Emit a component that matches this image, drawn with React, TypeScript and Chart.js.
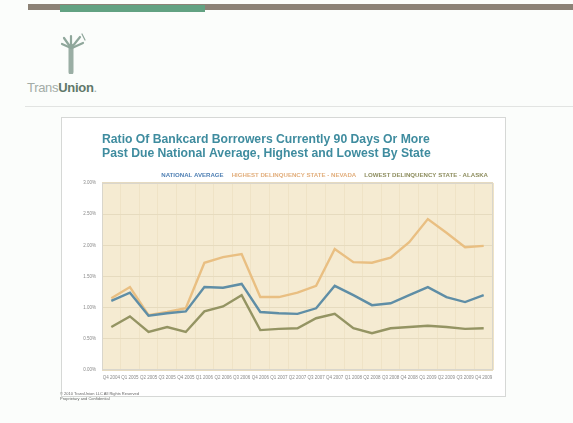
import React, { useEffect, useRef } from "react";
import { Chart, registerables } from "chart.js";

Chart.register(...registerables);

const categories = [
  "Q4 2004", "Q1 2005", "Q2 2005", "Q3 2005", "Q4 2005",
  "Q1 2006", "Q2 2006", "Q3 2006", "Q4 2006", "Q1 2007",
  "Q2 2007", "Q3 2007", "Q4 2007", "Q1 2008", "Q2 2008",
  "Q3 2008", "Q4 2008", "Q1 2009", "Q2 2009", "Q3 2009", "Q4 2009",
];
const nationalAverage = [1.11, 1.24, 0.87, 0.91, 0.94, 1.33, 1.32, 1.38, 0.93, 0.91, 0.9, 0.99, 1.35, 1.2, 1.04, 1.07, 1.2, 1.33, 1.17, 1.09, 1.2];
const highestState = [1.15, 1.33, 0.88, 0.93, 0.99, 1.72, 1.81, 1.86, 1.17, 1.17, 1.24, 1.35, 1.94, 1.73, 1.72, 1.8, 2.05, 2.42, 2.2, 1.97, 1.99];
const lowestState = [0.69, 0.86, 0.61, 0.69, 0.61, 0.94, 1.02, 1.2, 0.64, 0.66, 0.67, 0.83, 0.9, 0.67, 0.59, 0.67, 0.69, 0.71, 0.69, 0.66, 0.67];
const seriesLabels = [
  "NATIONAL AVERAGE",
  "HIGHEST DELINQUENCY STATE - NEVADA",
  "LOWEST DELINQUENCY STATE - ALASKA",
];
const titleLines = [
  "Ratio Of Bankcard Borrowers Currently 90 Days Or More",
  "Past Due National Average, Highest and Lowest By State",
];
const yMin = 0;
const yMax = 3;
const yStep = 0.5;

const lineColors = ["#5f8ea6", "#e9bf82", "#949463"];
const legendColors = ["#4e7fb3", "#e2ae7c", "#8d8d5e"];
const FONT = "'Liberation Sans', Arial, sans-serif";

const plotBackground = {
  id: "plotBackground",
  beforeDraw(chart: any) {
    const { ctx, chartArea } = chart;
    if (!chartArea) return;
    ctx.save();
    ctx.fillStyle = "#f5ebd2";
    ctx.fillRect(chartArea.left, chartArea.top, chartArea.right - chartArea.left, chartArea.bottom - chartArea.top);
    ctx.restore();
  },
  afterDraw(chart: any) {
    const { ctx, chartArea } = chart;
    if (!chartArea) return;
    ctx.save();
    ctx.strokeStyle = "#d9d6cc";
    ctx.lineWidth = 1;
    ctx.strokeRect(chartArea.left + 0.5, chartArea.top + 0.5, chartArea.right - chartArea.left - 1, chartArea.bottom - chartArea.top - 1);
    ctx.restore();
  },
};

const legendFit = {
  id: "legendFit",
  afterInit(chart: any) {
    const lg = chart.legend;
    if (!lg) return;
    const orig = lg.fit;
    lg.fit = function () {
      orig.call(this);
      this.height = 16.05;
    };
  },
};

function ChartBox() {
  const ref = useRef<HTMLCanvasElement | null>(null);
  useEffect(() => {
    if (!ref.current) return;
    const chart = new Chart(ref.current, {
      type: "line",
      data: {
        labels: categories,
        datasets: [
          { label: seriesLabels[0], data: nationalAverage, borderColor: lineColors[0], backgroundColor: lineColors[0], borderWidth: 2.4, pointRadius: 0, tension: 0 },
          { label: seriesLabels[1], data: highestState, borderColor: lineColors[1], backgroundColor: lineColors[1], borderWidth: 2.4, pointRadius: 0, tension: 0 },
          { label: seriesLabels[2], data: lowestState, borderColor: lineColors[2], backgroundColor: lineColors[2], borderWidth: 2.4, pointRadius: 0, tension: 0 },
        ],
      },
      options: {
        responsive: false,
        animation: false,
        layout: { padding: { left: 0, right: 12, top: 0, bottom: 14 } },
        plugins: {
          tooltip: { enabled: false },
          title: {
            display: true,
            text: titleLines,
            align: "start",
            fullSize: false,
            color: "#3f8c9f",
            font: { family: FONT, size: 12.2, weight: "bold", lineHeight: 1.08 },
            padding: { top: 15.4, bottom: 7.15 },
          },
          legend: {
            display: true,
            align: "end",
            fullSize: false,
            labels: {
              boxWidth: 0,
              boxHeight: 0,
              padding: 5,
              font: { family: FONT, size: 6.1, weight: "bold" },
              generateLabels: (c: any) =>
                c.data.datasets.map((ds: any, i: number) => ({
                  text: ds.label,
                  fontColor: legendColors[i],
                  fillStyle: "rgba(0,0,0,0)",
                  strokeStyle: "rgba(0,0,0,0)",
                  lineWidth: 0,
                  hidden: false,
                  datasetIndex: i,
                })),
            },
          },
        },
        scales: {
          x: {
            offset: true,
            grid: { display: true, offset: true, color: "#efe3c6", drawTicks: false },
            border: { display: false },
            ticks: {
              autoSkip: false,
              maxRotation: 0,
              minRotation: 0,
              padding: 5,
              color: "#8a8a8a",
              font: { family: FONT, size: 4.5 },
            },
            afterFit(scale: any) {
              scale.height = 12;
            },
          },
          y: {
            min: yMin,
            max: yMax,
            grid: { color: "#e6dbbf", drawTicks: false },
            border: { display: false },
            ticks: {
              stepSize: yStep,
              padding: 6,
              color: "#8a8a8a",
              font: { family: FONT, size: 4.5 },
              callback: (v: any) => Number(v).toFixed(2) + "%",
            },
            afterFit(scale: any) {
              scale.width = 40;
            },
          },
        },
      },
      plugins: [plotBackground, legendFit],
    } as any);
    return () => chart.destroy();
  }, []);
  return <canvas ref={ref} width={443} height={278} style={{ display: "block", width: 443, height: 278 }} />;
}

function Logo() {
  return (
    <svg width="30" height="42" viewBox="0 0 30 42" style={{ position: "absolute", left: 58, top: 32 }}>
      <g stroke="#8fa79b" strokeWidth="2.2" fill="none" strokeLinecap="round">
        <path d="M13 40 L13 14" strokeWidth="5" stroke="#9aaea4" />
        <path d="M13 16 L6 6" />
        <path d="M13 16 L4 12" />
        <path d="M14 15 L22 5" />
        <path d="M14 16 L25 11" />
        <path d="M13 14 L13 4" />
        <path d="M24 2 L27 8" strokeWidth="1.2" />
      </g>
    </svg>
  );
}

export default function App() {
  return (
    <div
      style={{
        position: "fixed",
        left: 0,
        top: 0,
        width: 573,
        height: 423,
        background: "#fbfdfb",
        overflow: "hidden",
        fontFamily: FONT,
      }}
    >
      <div style={{ position: "absolute", left: 28, top: 4, width: 545, height: 6, background: "#8c8276" }} />
      <div style={{ position: "absolute", left: 60, top: 5, width: 145, height: 7, background: "#62a282" }} />
      <Logo />
      <div style={{ position: "absolute", left: 27, top: 80, fontSize: 13, letterSpacing: -0.3, lineHeight: "16px" }}>
        <span style={{ color: "#a3aca7" }}>Trans</span>
        <span style={{ color: "#5f7869", fontWeight: "bold" }}>Union</span>
        <span style={{ color: "#a3aca7" }}>.</span>
      </div>
      <div style={{ position: "absolute", left: 25, top: 106, width: 548, height: 1, background: "#e2e4e2" }} />
      <div
        style={{
          position: "absolute",
          left: 62,
          top: 118,
          width: 443,
          height: 278,
          background: "#ffffff",
          boxShadow: "0 0 0 1px #d6d8d6",
        }}
      >
        <ChartBox />
      </div>
      <div style={{ position: "absolute", left: 60, top: 391, fontSize: 4, lineHeight: "5px", color: "#666" }}>
        <div>© 2010 TransUnion LLC All Rights Reserved</div>
        <div>Proprietary and Confidential</div>
      </div>
    </div>
  );
}
